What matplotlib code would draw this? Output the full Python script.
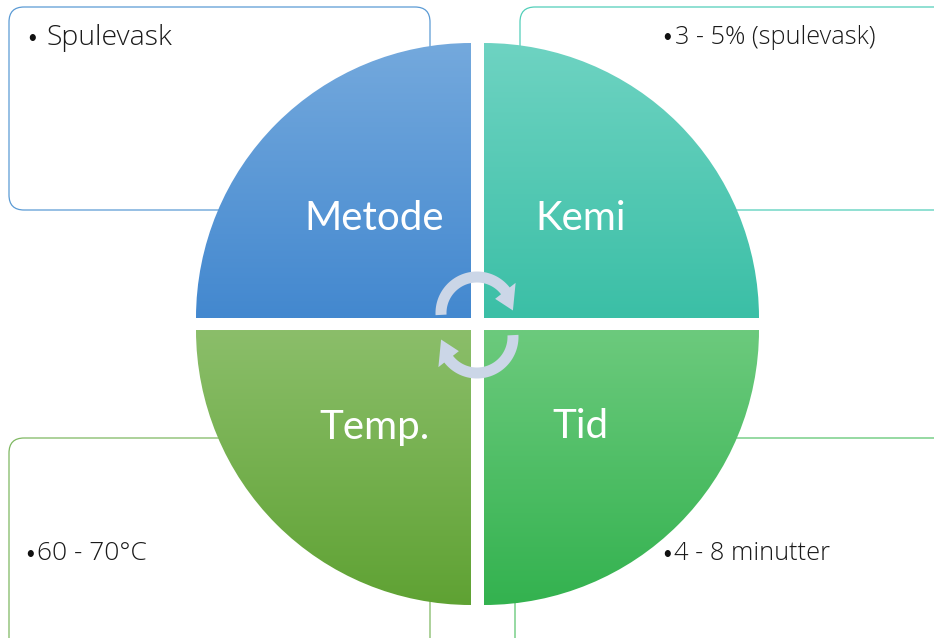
import numpy as np
import matplotlib.pyplot as plt
from matplotlib.patches import Wedge, FancyBboxPatch, Polygon
from matplotlib.colors import to_rgb

# -------------------------------------------------------
# Innhold
# -------------------------------------------------------
labels = ["Metode", "Kemi", "Temp.", "Tid"]
items = ["Spulevask", "3 - 5% (spulevask)", "60 - 70°C", "4 - 8 minutter"]

# gradient (topp, bunn) for hver kvadrant
grad_top = ["#74a9dd", "#6ed3c2", "#8bbe6a", "#6cca7d"]
grad_bot = ["#4388cf", "#3bbfa6", "#5fa233", "#33b24f"]
edge_cols = ["#5b9bd5", "#52cfb9", "#7fb862", "#5cc46e"]

# -------------------------------------------------------
# Geometri (piksler, y nedover)
# -------------------------------------------------------
R = 275
corners = [(471, 318), (484, 318), (471, 330), (484, 330)]
angles = [(180, 270), (270, 360), (90, 180), (0, 90)]
label_pos = [(374, 219), (581, 219), (374, 427), (580, 427)]

boxes = [(9, 7, 421, 203), (520, 7, 430, 203), (9, 438, 421, 220), (515, 438, 440, 220)]
bullet_x = [27, 662, 25, 662]
item_pos = [(47, 38), (675, 37), (37, 554), (674, 554)]
item_size = [20.5, 18.2, 19, 18.3]

fig = plt.figure(figsize=(9.34, 6.38), dpi=100)
ax = fig.add_axes([0, 0, 1, 1])
ax.set_xlim(0, 934)
ax.set_ylim(638, 0)
ax.axis('off')

# tekstbokser bak sirkelen
for (x, y, w, h), ec in zip(boxes, edge_cols):
    ax.add_patch(FancyBboxPatch((x, y), w, h, boxstyle="round,pad=0,rounding_size=15",
                                fc='white', ec=ec, lw=0.9, zorder=1))

# kvadranter med gradient
for (cx, cy), (a1, a2), c1, c2 in zip(corners, angles, grad_top, grad_bot):
    w = Wedge((cx, cy), R, a1, a2, fc='none', ec='none')
    ax.add_patch(w)
    t = np.linspace(0, 1, 256)[:, None, None]
    img = (1 - t) * np.array(to_rgb(c1)) + t * np.array(to_rgb(c2))
    y0 = cy - R if a1 >= 180 else cy
    x0 = cx - R if a1 in (90, 180) else cx
    im = ax.imshow(img, extent=(x0, x0 + R, y0 + R, y0), origin='upper',
                   aspect='auto', zorder=2, interpolation='bilinear')
    im.set_clip_path(w)

for (x, y), lab in zip(label_pos, labels):
    ax.text(x, y, lab, color='white', fontsize=29, ha='center', va='center',
            family='Lato', zorder=4)


# sirkulære piler i midten
def arc_arrow(cx, cy, start, end, tip, r_mid=36, half=5.5, head=13):
    r_out, r_in = r_mid + half, r_mid - half
    th = np.radians(np.linspace(start, end, 60))
    pts = [(cx + r_out * np.cos(a), cy - r_out * np.sin(a)) for a in th]
    e = np.radians(end)
    pts.append((cx + (r_out + head - half) * np.cos(e), cy - (r_out + head - half) * np.sin(e)))
    tp = np.radians(tip)
    pts.append((cx + r_mid * np.cos(tp), cy - r_mid * np.sin(tp)))
    pts.append((cx + (r_in - head + half) * np.cos(e), cy - (r_in - head + half) * np.sin(e)))
    pts += [(cx + r_in * np.cos(a), cy - r_in * np.sin(a)) for a in th[::-1]]
    return Polygon(pts, closed=True, fc='#cbd6e7', ec='none', zorder=3)

ax.add_patch(arc_arrow(477, 313, 183, 38, 4))
ax.add_patch(arc_arrow(477, 337, 3, -142, -176))

# punkttekster
body = dict(ha='left', va='center', color='#1a1a1a', family='Open Sans',
            fontweight=300, zorder=5)
for bx, (x, y), txt, fs in zip(bullet_x, item_pos, items, item_size):
    ax.text(bx, y, "•", fontsize=12, ha='left', va='center', color='#111111',
            family='Lato', zorder=5)
    ax.text(x, y, txt, fontsize=fs, **body)

fig.savefig('out.png', dpi=100)
